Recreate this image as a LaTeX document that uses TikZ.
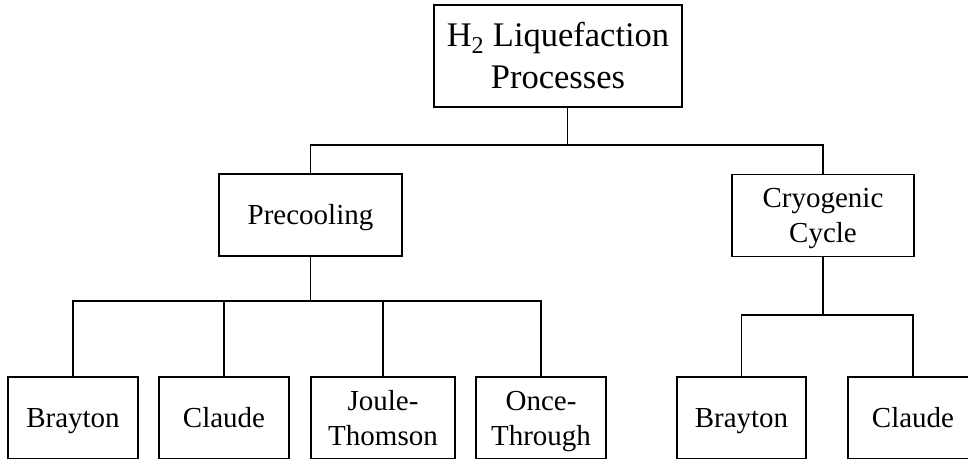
\documentclass[tikz,border=0pt]{standalone}
\usepackage{fontspec}
\setmainfont{Liberation Serif}
\begin{document}
\begin{tikzpicture}[x=1pt,y=-1pt,
  box/.style={draw=black,line width=1.8pt,inner sep=0pt,align=center,
    minimum height=82pt,text height=19pt,text depth=0pt,
    font=\fontsize{29}{35}\selectfont},
  twoline/.style={text height=54pt},
  link/.style={draw=black,line width=1.8pt}]
\useasboundingbox (0,0) rectangle (968,458);
\clip (0,0) rectangle (968,458);

% root
\node[box,minimum width=248pt,minimum height=102pt,text height=64pt,
  font=\fontsize{34.5}{42}\selectfont] (root) at (558,56)
  {H\textsubscript{2} Liquefaction\\Processes};

% second level
\node[box,minimum width=183pt] (pre) at (310.5,215) {Precooling};
\node[box,twoline,minimum width=182pt] (cryo) at (823,215.5) {Cryogenic\\Cycle};

% third level
\node[box,minimum width=130pt] (pb) at (73,418) {Brayton};
\node[box,minimum width=130pt] (pc) at (224,418) {Claude};
\node[box,twoline,minimum width=144pt] (pj) at (383,418) {Joule-\\Thomson};
\node[box,twoline,minimum width=130pt] (po) at (541,418) {Once-\\Through};
\node[box,minimum width=129pt] (cb) at (741.5,418) {Brayton};
\node[box,minimum width=130pt] (cc) at (913,418) {Claude};

% bus bars
\coordinate (hubA) at (567.5,145);
\coordinate (hubB) at (0,301);
\coordinate (hubC) at (0,315);

\draw[link] (root.south -| hubA) -- (hubA);
\draw[link] (pre.north) -- (pre.north |- hubA) -- (cryo.north |- hubA) -- (cryo.north);

\draw[link] (pre.south) -- (pre.south |- hubB);
\draw[link] (pb.north) -- (pb.north |- hubB) -- (po.north |- hubB) -- (po.north);
\draw[link] (pc.north) -- (pc.north |- hubB);
\draw[link] (pj.north) -- (pj.north |- hubB);

\draw[link] (cryo.south) -- (cryo.south |- hubC);
\draw[link] (cb.north) -- (cb.north |- hubC) -- (cc.north |- hubC) -- (cc.north);
\end{tikzpicture}
\end{document}
